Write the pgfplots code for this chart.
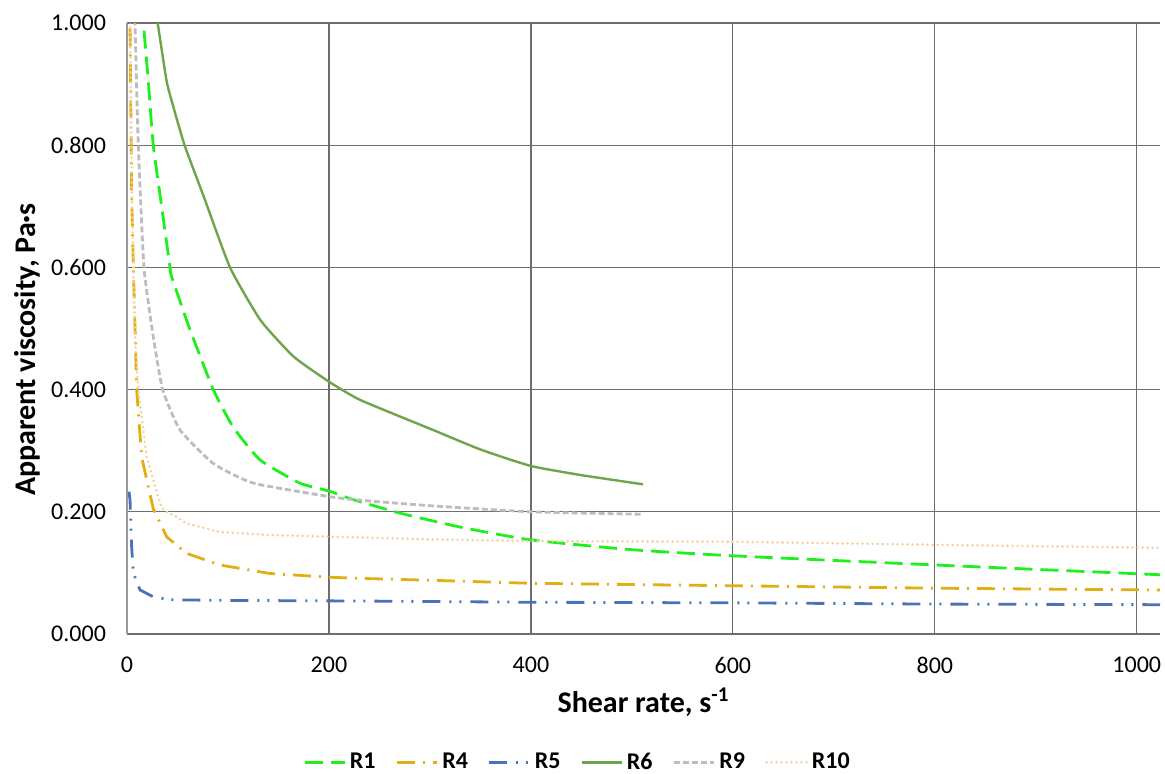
\documentclass[border=0pt]{standalone}
\usepackage{pgfplots}
\pgfplotsset{compat=1.18}
\usepackage{fontspec}
\setmainfont{Carlito}

\definecolor{cR1}{HTML}{1EF01E}
\definecolor{cR4}{HTML}{E2AE12}
\definecolor{cR5}{HTML}{4A72BA}
\definecolor{cR6}{HTML}{70A44C}
\definecolor{cR9}{HTML}{BDBDBD}
\definecolor{cR10}{HTML}{F2D09E}
\definecolor{gridc}{HTML}{6E6E6E}

\begin{document}
\begin{tikzpicture}
\useasboundingbox (-63.5pt,-69.5pt) rectangle (519pt,317pt);
\begin{axis}[
    at={(0,0)}, anchor=south west,
    scale only axis,
    width=516.5pt, height=305.5pt,
    xmin=0, xmax=1023, ymin=0, ymax=1,
    axis x line=bottom, axis y line=left,
    axis line style={-, draw=gridc, line width=0.6pt},
    y axis line style={draw=gray!80, line width=1pt},
    xtick={0,200,...,1000},
    ytick={0,0.2,...,1.0},
    major tick length=0pt,
    grid=major,
    major grid style={draw=gridc, line width=0.6pt},
    tick label style={font=\fontsize{12}{14}\selectfont},
    /pgf/number format/assume math mode=true,
    yticklabel style={/pgf/number format/fixed, /pgf/number format/fixed zerofill,
        /pgf/number format/precision=3, xshift=-7pt},
    xticklabel style={/pgf/number format/1000 sep={}, yshift=-8pt},
    xlabel={\bfseries Shear rate, s\textsuperscript{-1}},
    ylabel={\bfseries Apparent viscosity, Pa·s},
    label style={font=\fontsize{15}{17}\selectfont},
    xlabel style={at={(axis description cs:0.5,0)}, anchor=center, yshift=-34pt},
    ylabel style={at={(axis description cs:0,0.5)}, anchor=center, yshift=50pt, xshift=-10.5pt},
    legend style={at={(0.437,-0.21)}, anchor=center, draw=none, fill=none,
        font=\fontsize{12}{14}\selectfont\bfseries,
        /tikz/every even column/.append style={column sep=8pt}},
    legend columns=-1,
    legend image code/.code={\draw[#1] (0pt,0pt) -- (20pt,0pt);},
    every axis plot/.append style={line width=1.4pt},
    clip=true,
]
\addplot[cR1, smooth, tension=0.3, dash pattern=on 9pt off 4pt] coordinates {
(15,1.03) (16.2,1.0) (21,0.907) (26,0.8) (34.3,0.7) (42.6,0.6) (44.2,0.585)
(62.4,0.498) (85.5,0.4) (105,0.339) (131.7,0.285) (171,0.247) (200,0.234)
(224,0.22) (270,0.198) (330,0.175) (400,0.154) (500,0.138)
(600,0.128) (800,0.113) (1023,0.097)};
\addlegendentry{R1}
\addplot[cR4, dash pattern=on 9pt off 4pt on 1pt off 4pt] coordinates {
(2,1.05) (3,1.0) (4.6,0.72) (6.3,0.6) (9.6,0.4) (14.5,0.29) (26,0.205)
(39.3,0.159) (59,0.132) (92,0.113) (141.6,0.099) (200,0.093) (231,0.091)
(300,0.088) (400,0.083) (600,0.079) (800,0.075) (1023,0.072)};
\addlegendentry{R4}
\addplot[cR5, dash pattern=on 9pt off 4.5pt on 1pt off 4pt on 1pt off 4.5pt] coordinates {
(2,0.233) (3,0.219) (4.6,0.143) (6.3,0.1) (12.9,0.072) (26,0.061) (42.6,0.056)
(100,0.055) (231,0.054) (400,0.052) (600,0.051) (800,0.049) (1023,0.048)};
\addlegendentry{R5}
\addplot[cR6, smooth, tension=0.3, line width=1.2pt] coordinates {
(29,1.02) (30.4,1.0) (39,0.907) (44,0.874) (57,0.8) (76,0.716) (102,0.6)
(132,0.514) (165,0.454) (200,0.413) (231,0.383) (303,0.334) (350,0.302)
(400,0.275) (450,0.26) (511,0.245)};
\addlegendentry{R6}
\addplot[cR9, smooth, tension=0.3, dash pattern=on 3pt off 1.5pt] coordinates {
(7,1.05) (7.9,1.0) (11.2,0.8) (16.8,0.6) (26,0.487) (35.3,0.4) (52.5,0.334)
(85.5,0.279) (125,0.247) (200,0.225) (231,0.219) (300,0.21) (400,0.2) (511,0.196)};
\addlegendentry{R9}
\addplot[cR10, line cap=round, dash pattern=on 0pt off 2.5pt] coordinates {
(2.5,1.05) (3.2,1.0) (4.8,0.72) (6.5,0.6) (7.9,0.487) (11.2,0.4) (19.5,0.29)
(32.7,0.214) (36,0.203) (49,0.192) (59,0.181) (92,0.167) (141.6,0.162)
(231,0.158) (300,0.155) (400,0.152) (600,0.151) (800,0.146) (1023,0.141)};
\addlegendentry{R10}
\end{axis}
\end{tikzpicture}
\end{document}
